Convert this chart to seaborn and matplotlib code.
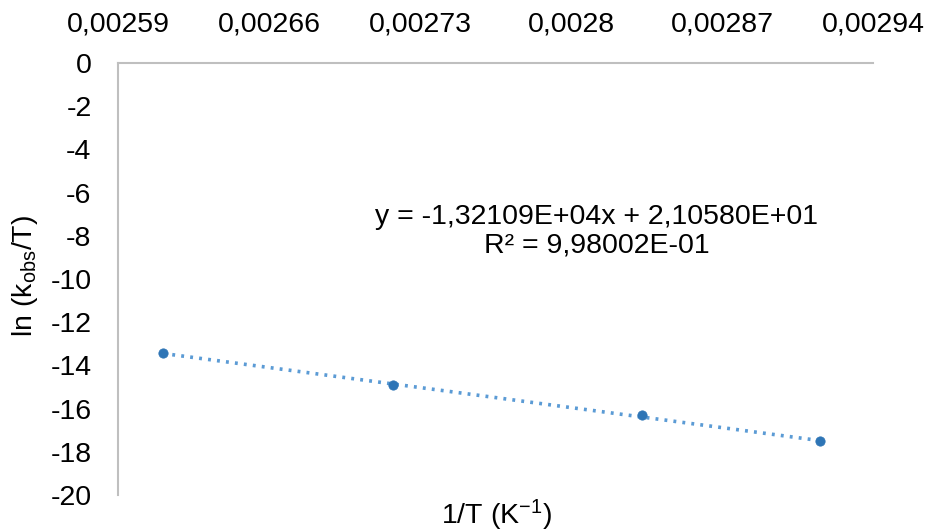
import numpy as np
import pandas as pd
import matplotlib
matplotlib.use("Agg")
import matplotlib.pyplot as plt
import seaborn as sns

# data
inv_T = [0.0026110, 0.0027174, 0.0028329, 0.0029155]
ln_k_T = [-13.43, -14.92, -16.31, -17.52]
x_ticks = [0.00259, 0.00266, 0.00273, 0.0028, 0.00287, 0.00294]
x_labels = ["0,00259", "0,00266", "0,00273", "0,0028", "0,00287", "0,00294"]
y_ticks = [0, -2, -4, -6, -8, -10, -12, -14, -16, -18, -20]
eq_text = "y = -1,32109E+04x + 2,10580E+01\nR² = 9,98002E-01"

sns.set_style("white")
plt.rcParams['font.family'] = ['Liberation Sans', 'DejaVu Sans']
plt.rcParams['mathtext.fontset'] = 'custom'
plt.rcParams['mathtext.rm'] = 'Liberation Sans'
plt.rcParams['mathtext.it'] = 'Liberation Sans:italic'
plt.rcParams['text.color'] = 'black'

df = pd.DataFrame({"x": inv_T, "y": ln_k_T})
slope, icpt = np.polyfit(df.x, df.y, 1)
trend = pd.DataFrame({"x": [df.x.min(), df.x.max()]})
trend["y"] = slope * trend.x + icpt

fs = 20.5
fig = plt.figure(figsize=(9.29, 5.31), dpi=100)
ax = fig.add_axes([118/929, 1-495/531, (873-118)/929, (495-63)/531])

sns.lineplot(data=trend, x="x", y="y", ax=ax, color="#5B9BD5",
             linestyle=(0, (0.8, 1.7)), linewidth=2.6)
sns.scatterplot(data=df, x="x", y="y", ax=ax, color="#2E75B6",
                s=45, edgecolor="#2E75B6", zorder=3)

ax.set_xlim(0.00259, 0.00294)
ax.set_ylim(-20, 0)
ax.xaxis.tick_top()
ax.set_xticks(x_ticks)
ax.set_xticklabels(x_labels)
ax.set_yticks(y_ticks)
ax.set_yticklabels([str(v) for v in y_ticks])
ax.tick_params(axis="x", length=0, pad=18, labelsize=fs, labelcolor="black")
ax.tick_params(axis="y", length=0, pad=19, labelsize=fs, labelcolor="black")
ax.set_xlabel("")
ax.set_ylabel("")

for s in ["right", "bottom"]:
    ax.spines[s].set_visible(False)
for s in ["top", "left"]:
    ax.spines[s].set_color("#BFBFBF")
    ax.spines[s].set_linewidth(1.5)

ax.text(0.634, 0.61, eq_text, transform=ax.transAxes, ha="center",
        va="center", multialignment="center", fontsize=fs, linespacing=1.15)

fig.text(497/929, 1-515/531, "1/T (K$^{\\mathregular{-1}}$)", ha="center", va="center", fontsize=fs)
fig.text(25/929, 1-276/531, "ln (k$_{\\mathregular{obs}}$/T)", ha="center", va="center",
         rotation=90, fontsize=fs)

fig.savefig("out.png", dpi=100)
